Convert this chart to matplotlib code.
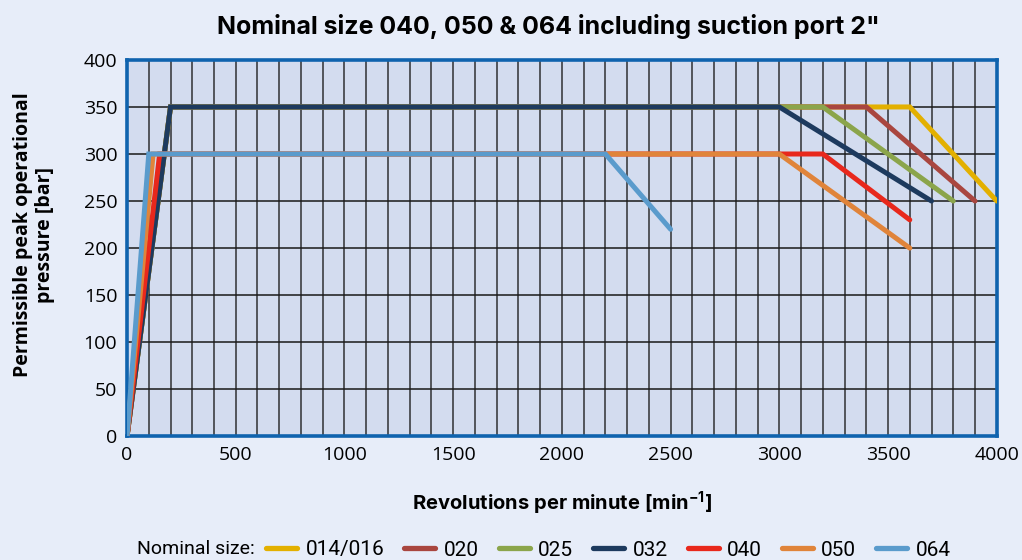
import matplotlib
matplotlib.use("Agg")
import matplotlib.pyplot as plt
from matplotlib.ticker import MultipleLocator

# rpm / bar break points per nominal size
sizes = ["014/016", "020", "025", "032", "040", "050", "064"]
colors = ["#E3B000", "#A9463F", "#8BA54B", "#1D3A5E", "#E8281C", "#E0843A", "#5A9BCC"]
rpm = [
    [0, 200, 3600, 4000],
    [0, 200, 3400, 3900],
    [0, 200, 3200, 3800],
    [0, 200, 3000, 3700],
    [0, 150, 3200, 3600],
    [0, 120, 3000, 3600],
    [0, 100, 2200, 2500],
]
pressure = [
    [0, 350, 350, 250],
    [0, 350, 350, 250],
    [0, 350, 350, 250],
    [0, 350, 350, 250],
    [0, 300, 300, 230],
    [0, 300, 300, 200],
    [0, 300, 300, 220],
]

plt.rcParams["font.family"] = "Open Sans"
fig_bg = "#E7EDF9"
ax_bg = "#D3DCEF"
spine_c = "#0F63AE"

fig = plt.figure(figsize=(10.22, 5.6), dpi=100, facecolor=fig_bg)
ax = fig.add_axes([0.1243, 0.221, 0.851, 0.672], facecolor=ax_bg)

for name, c, xs, ys in zip(sizes, colors, rpm, pressure):
    ax.plot(xs, ys, color=c, lw=3.6, label=name, solid_capstyle="round",
            solid_joinstyle="miter", zorder=3)

ax.set_xlim(0, 4000)
ax.set_ylim(0, 400)
ax.xaxis.set_major_locator(MultipleLocator(500))
ax.xaxis.set_minor_locator(MultipleLocator(100))
ax.yaxis.set_major_locator(MultipleLocator(50))
ax.grid(True, which="both", axis="x", color="#1a1a1a", lw=1.3, alpha=0.75)
ax.grid(True, which="major", axis="y", color="#1a1a1a", lw=1.3, alpha=0.85)
ax.tick_params(which="both", length=0)
ax.tick_params(labelsize=14, pad=7)
for s in ax.spines.values():
    s.set_color(spine_c)
    s.set_linewidth(2.6)

ax.set_ylabel("Permissible peak operational\npressure [bar]", fontsize=14,
              fontweight="bold", linespacing=1.12)
ax.yaxis.set_label_coords(-0.083, 0.535)
ax.set_xlabel("Revolutions per minute [min$^{\\mathregular{-1}}$]", fontsize=14.5,
              fontweight="bold", family="Inter", labelpad=18)
ax.set_title('Nominal size 040, 050 & 064 including suction port 2"', fontsize=18,
             fontweight="bold", family="Inter", pad=19, x=0.485)

fig.text(137 / 1022, 1 - 549 / 560, "Nominal size:", fontsize=14, family="Roboto",
         va="center")
leg = fig.legend(loc="center left", bbox_to_anchor=(266 / 1022, 1 - 550 / 560), ncol=7,
                 frameon=False, borderpad=0, borderaxespad=0,
                 handlelength=1.5, handletextpad=0.4, columnspacing=0.95,
                 prop={"family": "Roboto", "size": 15})
for h in leg.get_lines():
    h.set_linewidth(3.8)
    h.set_solid_capstyle("round")

fig.savefig("out.png", dpi=100, facecolor=fig_bg)
